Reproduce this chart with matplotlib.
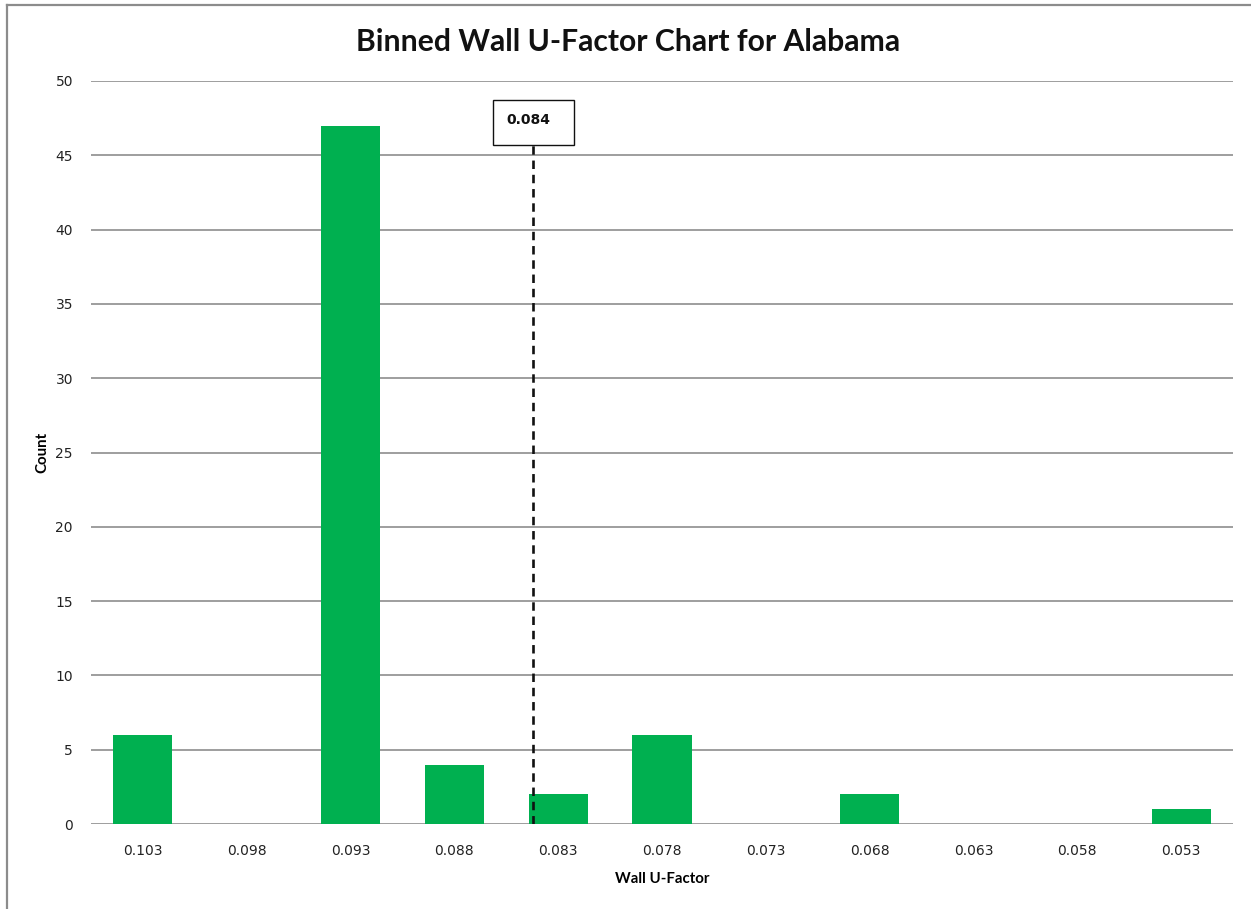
import matplotlib
matplotlib.use("Agg")
import matplotlib.pyplot as plt
from matplotlib.lines import Line2D
from matplotlib.patches import Rectangle
import numpy as np

categories = ["0.103", "0.098", "0.093", "0.088", "0.083", "0.078",
              "0.073", "0.068", "0.063", "0.058", "0.053"]
counts = [6, 0, 47, 4, 2, 6, 0, 2, 0, 0, 1]
marker_value = 0.0842
marker_label = "0.084"
title = "Binned Wall U-Factor Chart for Alabama"
xlabel = "Wall U-Factor"
ylabel = "Count"

W, H = 1251, 909
fig = plt.figure(figsize=(W / 100, H / 100), dpi=100)
ax = fig.add_axes([91 / W, 1 - 824 / H, (1233 - 91) / W, (824 - 81) / H])

x = np.arange(len(categories))
ax.bar(x, counts, width=0.57, color="#00B050", zorder=3)

ax.set_xlim(-0.5, len(categories) - 0.5)
ax.set_ylim(0, 50)
ax.set_yticks(np.arange(0, 51, 5))
ax.set_xticks(x)
ax.set_xticklabels(categories)
ax.yaxis.grid(True, color="#8e8e8e", linewidth=1.2, zorder=0)
ax.set_axisbelow(True)
for s in ax.spines.values():
    s.set_visible(False)
ax.tick_params(axis="both", length=0, labelsize=10, colors="#222222")
ax.tick_params(axis="x", pad=14.5)
ax.tick_params(axis="y", pad=13)

# marker position from category values (categories step evenly)
vals = np.array([float(c) for c in categories])
pos = np.interp(marker_value, vals[::-1], x[::-1])
box_bottom, box_top = 45.7, 48.7
ax.plot([pos, pos], [0, box_bottom], color="#111111", linewidth=1.9,
        linestyle=(0, (3.2, 2.2)), zorder=4)
ax.add_patch(Rectangle((pos - 0.39, box_bottom), 0.78, box_top - box_bottom,
                       facecolor="white", edgecolor="#111111", linewidth=1.0,
                       zorder=5, clip_on=False))
ax.text(pos - 0.26, (box_bottom + box_top) / 2 + 0.2, marker_label, ha="left",
        va="center", fontsize=10, fontweight="bold", family="DejaVu Sans",
        color="#111111", zorder=6)

ax.set_xlabel(xlabel, fontsize=10.8, fontweight="bold", family="Lato", labelpad=10)
ax.set_ylabel(ylabel, fontsize=10.8, fontweight="bold", family="Lato", labelpad=4)
fig.text(0.502, 1 - 42 / H, title, ha="center", va="center", fontsize=21.7,
         fontweight="bold", family="Lato", color="#111111")

fig.add_artist(Line2D([7 / W, 7 / W], [0, 1 - 5 / H], transform=fig.transFigure,
                      color="#8c8c8c", linewidth=1.6))
fig.add_artist(Line2D([7 / W, 1], [1 - 5 / H, 1 - 5 / H], transform=fig.transFigure,
                      color="#8c8c8c", linewidth=1.6))

fig.savefig("out.png", dpi=100)
